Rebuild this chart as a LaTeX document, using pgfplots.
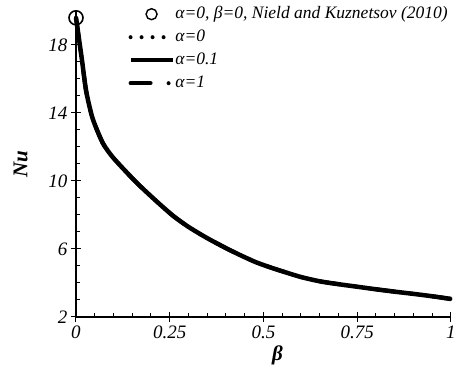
\documentclass[border=0pt]{standalone}
\usepackage{pgfplots}
\pgfplotsset{compat=1.18}
\usepackage{fontspec}
\setmainfont{Liberation Serif}
\pgfplotsset{
  longleg/.style={legend image code/.code={\draw[##1] (1pt,0pt) -- (43pt,0pt);}},
  circleg/.style={legend image code/.code={\draw[black, line width=1.4pt] (22pt,0pt) circle (5.5pt);}},
}
\pgfplotstableread{
b Nu
0 19.6
0.0045 18.9
0.016 17.1
0.027 15.3
0.044 13.7
0.071 12.25
0.098 11.4
0.144 10.3
0.171 9.7
0.215 8.8
0.259 7.95
0.30 7.3
0.349 6.65
0.40 6.05
0.437 5.65
0.48 5.22
0.526 4.86
0.597 4.37
0.65 4.1
0.70 3.93
0.75 3.78
0.80 3.63
0.85 3.49
0.90 3.36
0.95 3.22
1.0 3.06
}\curve
\begin{document}
\begin{tikzpicture}
\useasboundingbox (-76pt,-58pt) rectangle (391pt,317pt);
\begin{axis}[
  at={(0pt,0pt)}, anchor=south west,
  scale only axis, width=375pt, height=306pt,
  xmin=0, xmax=1, ymin=2, ymax=20,
  axis lines=left,
  axis line style={line width=1.4pt, -},
  xtick={0,0.25,0.5,0.75,1},
  xticklabels={0,0.25,0.5,0.75,1},
  ytick={2,6,10,14,18},
  minor x tick num=4,
  minor y tick num=3,
  tick align=center,
  major tick length=10pt,
  minor tick length=4pt,
  minor x tick style={yshift=2pt},
  minor y tick style={xshift=2pt},
  tick style={line width=1pt, black},
  /pgf/number format/assume math mode=true,
  ticklabel style={font=\fontsize{19}{21}\selectfont\itshape},
  xlabel={\fontsize{21}{23}\selectfont\bfseries\itshape β},
  ylabel={\fontsize{21}{23}\selectfont\bfseries\itshape Nu},
  xlabel style={xshift=14pt, yshift=0pt},
  ylabel style={yshift=14pt},
  clip=false,
  legend cell align=left,
  legend style={draw=none, fill=none, at={(0.139,1.018)}, anchor=north west,
    font=\fontsize{17.5}{20}\selectfont\itshape, row sep=6pt,
    inner sep=0pt, nodes={inner sep=0.5pt, text height=12pt, text depth=4pt}},
]
\addplot[only marks, mark=o, mark size=7pt, mark options={line width=1.6pt}, black, circleg]
  coordinates {(0,19.6)};
\addlegendentry{α=0, β=0, Nield and Kuznetsov (2010)}
\addplot[black, line width=4pt, line cap=round, dash pattern=on 0pt off 11pt, smooth, tension=0.4, longleg]
  table[x=b,y=Nu] {\curve};
\addlegendentry{α=0}
\addplot[black, line width=4.5pt, smooth, tension=0.4, longleg]
  table[x=b,y=Nu] {\curve};
\addlegendentry{α=0.1}
\addplot[black, line width=4pt, line cap=round, dash pattern=on 20pt off 18pt on 0pt off 18pt, smooth, tension=0.4, longleg]
  table[x=b,y=Nu] {\curve};
\addlegendentry{α=1}
\end{axis}
\end{tikzpicture}
\end{document}
